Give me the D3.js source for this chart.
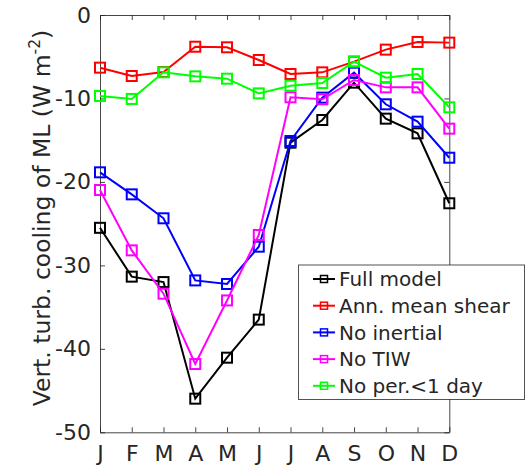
<!DOCTYPE html>
<html><head><meta charset="utf-8">
<script src="https://cdn.jsdelivr.net/npm/d3@7"></script>
<style>body{margin:0;background:#fff}svg{display:block}text{font-family:"DejaVu Sans",sans-serif;fill:#262626}</style>
</head><body><svg id="c" width="530" height="466"></svg>
<script>
const months = ["J","F","M","A","M","J","J","A","S","O","N","D"];
const yTicks = [0,-10,-20,-30,-40,-50];
const seriesNames = ["Full model","Ann. mean shear","No inertial","No TIW","No per.<1 day"];
const seriesColors = ["#000000","#ff0000","#0000ff","#ff00ff","#00ff00"];
const fullModel = [-25.5,-31.35,-32.0,-45.97,-41.06,-36.5,-15.3,-12.58,-8.11,-12.42,-14.18,-22.56];
const annMeanShear = [-6.31,-7.31,-6.83,-3.8,-3.87,-5.39,-7.07,-6.87,-5.59,-4.15,-3.23,-3.31];
const noInertial = [-18.85,-21.49,-24.36,-31.8,-32.23,-27.76,-15.1,-9.9,-6.91,-10.7,-12.78,-17.1];
const noTIW = [-20.97,-28.2,-33.39,-41.82,-34.2,-26.36,-9.86,-10.1,-7.79,-8.67,-8.67,-13.62];
const noPer1day = [-9.7,-10.06,-6.87,-7.35,-7.63,-9.39,-8.47,-8.15,-5.59,-7.51,-7.07,-11.06];
const seriesValues = [fullModel, annMeanShear, noInertial, noTIW, noPer1day];

const svg = d3.select("#c");
const L=100, R=449.3, T=15, B=432.3;
const x = d3.scaleLinear().domain([0,11]).range([L,R]);
const y = d3.scaleLinear().domain([-50,0]).range([B,T]);
const axisCol = "#262626";

const g = svg.append("g");
const xb = g.append("g").attr("transform",`translate(0,${B})`)
  .call(d3.axisBottom(x).tickValues(d3.range(12)).tickFormat(i=>months[i]).tickSizeInner(-5).tickSizeOuter(0).tickPadding(13));
const xt = g.append("g").attr("transform",`translate(0,${T})`)
  .call(d3.axisTop(x).tickValues(d3.range(12)).tickFormat("").tickSizeInner(-5).tickSizeOuter(0));
const yl = g.append("g").attr("transform",`translate(${L},0)`)
  .call(d3.axisLeft(y).tickValues(yTicks).tickFormat(d=>d===0?"0":"-"+Math.abs(d)).tickSizeInner(-5).tickSizeOuter(0).tickPadding(9));
const yr = g.append("g").attr("transform",`translate(${R},0)`)
  .call(d3.axisRight(y).tickValues(yTicks).tickFormat("").tickSizeInner(-5).tickSizeOuter(0));
[xb,xt,yl,yr].forEach(a=>{
  a.selectAll("path").attr("stroke",axisCol).attr("stroke-width",1).attr("opacity",0.85);
  a.selectAll("line").attr("stroke",axisCol).attr("stroke-width",1).attr("opacity",0.85);
  a.selectAll("text").attr("font-size",22).attr("fill","#262626").attr("font-family","DejaVu Sans");
});
xb.selectAll("text").attr("dy","0.71em");

const lab = svg.append("text").attr("transform",`translate(50,218) rotate(-90)`)
  .attr("text-anchor","middle").attr("font-size",23.5);
lab.append("tspan").text("Vert. turb. cooling of ML (W m");
lab.append("tspan").attr("font-size",15.5).attr("dy",-10).text("-2");
lab.append("tspan").attr("dy",10).text(")");

const line = d3.line().x((d,i)=>x(i)).y(d=>y(d));
seriesValues.forEach((vals,k)=>{
  const c = seriesColors[k];
  svg.append("path").datum(vals).attr("d",line).attr("fill","none").attr("stroke",c).attr("stroke-width",2);
  svg.append("g").selectAll("rect").data(vals).join("rect")
    .attr("x",(d,i)=>x(i)-5).attr("y",d=>y(d)-5).attr("width",10).attr("height",10)
    .attr("fill","none").attr("stroke",c).attr("stroke-width",2);
});

const lg = svg.append("g");
lg.append("rect").attr("x",298.5).attr("y",265).attr("width",226).attr("height",134.5)
  .attr("fill","#fff").attr("stroke",axisCol).attr("stroke-opacity",0.8).attr("stroke-width",1);
seriesNames.forEach((n,k)=>{
  const cy = 279 + k*26.7;
  const c = seriesColors[k];
  lg.append("line").attr("x1",313).attr("x2",335).attr("y1",cy).attr("y2",cy).attr("stroke",c).attr("stroke-width",2);
  lg.append("rect").attr("x",320.5).attr("y",cy-3.5).attr("width",7).attr("height",7).attr("fill","none").attr("stroke",c).attr("stroke-width",1.5);
  lg.append("text").attr("x",339).attr("y",cy).attr("dy","0.36em").attr("font-size",20).text(n);
});
</script></body></html>
